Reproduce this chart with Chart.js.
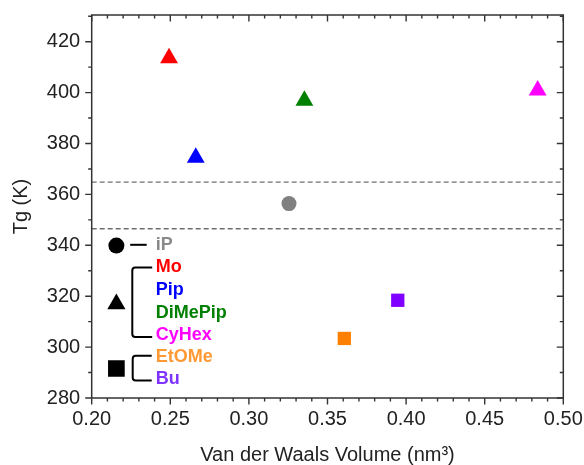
<!DOCTYPE html>
<html><head><meta charset="utf-8">
<script src="https://cdn.jsdelivr.net/npm/chart.js@4.4.1/dist/chart.umd.min.js"></script>
<style>html,body{margin:0;padding:0;background:#fff}#wrap{width:584px;height:465px}</style>
</head><body><div id="wrap"><canvas id="c" width="584" height="465"></canvas></div>
<script>
// ---- data ----
const compounds = ['iP', 'Mo', 'Pip', 'DiMePip', 'CyHex', 'EtOMe', 'Bu'];
const volumes = [0.3255, 0.2492, 0.2662, 0.3353, 0.4837, 0.3607, 0.3947];
const tgValues = [356.4, 413.6, 374.5, 396.9, 400.9, 303.4, 318.4];
const markerShapes = ['circle', 'triangle', 'triangle', 'triangle', 'triangle', 'rect', 'rect'];
const referenceLines = [364.8, 346.5];
const xTickValues = [0.20, 0.25, 0.30, 0.35, 0.40, 0.45, 0.50];
const xTickLabels = ['0.20', '0.25', '0.30', '0.35', '0.40', '0.45', '0.50'];
const yTickValues = [280, 300, 320, 340, 360, 380, 400, 420];
const yTickLabels = ['280', '300', '320', '340', '360', '380', '400', '420'];
const keyShapes = ['circle', 'triangle', 'rect'];
const keyX = [0.2157, 0.2157, 0.2157];
const keyY = [339.9, 316.9, 291.6];
const labelY = [340.2, 331.3, 322.5, 313.4, 304.9, 296.1, 287.5];

// ---- styles ----
const markerColors = ['#808080', '#ff0000', '#0000ff', '#008000', '#ff00ff', '#ff8000', '#8000ff'];
const labelColors = ['#8a8a8a', '#ff0000', '#0000ff', '#008000', '#ff00ff', '#ff9933', '#7f33ff'];
const shapeRadius = { circle: 7.5, triangle: 10.3, rect: 9.4 };
const keyRadius = { circle: 8, triangle: 10.5, rect: 11.8 };
const FONT = "'Liberation Sans', Arial, sans-serif";

const datasets = compounds.map((name, i) => ({
  type: 'scatter',
  label: name,
  data: [{ x: volumes[i], y: tgValues[i] }],
  pointStyle: markerShapes[i],
  pointRadius: shapeRadius[markerShapes[i]],
  backgroundColor: markerColors[i],
  borderColor: markerColors[i],
  pointBorderWidth: 0,
  clip: false
}));
referenceLines.forEach((v, i) => datasets.push({
  type: 'line',
  label: 'ref' + i,
  data: [{ x: 0.2, y: v }, { x: 0.5, y: v }],
  borderColor: '#707070',
  borderWidth: 1.3,
  borderDash: [5, 3],
  pointRadius: 0,
  fill: false
}));
datasets.push({
  type: 'scatter',
  label: 'keys',
  data: keyX.map((x, i) => ({ x: x, y: keyY[i] })),
  pointStyle: keyShapes,
  pointRadius: keyShapes.map(s => keyRadius[s]),
  backgroundColor: '#000',
  borderColor: '#000',
  pointBorderWidth: 0
});

const framePlugin = {
  id: 'frame',
  afterDatasetsDraw(chart) {
    const ctx = chart.ctx, a = chart.chartArea;
    const ys = chart.scales.y;
    ctx.save();
    ctx.font = "bold 18px " + FONT;
    ctx.textBaseline = 'middle';
    ctx.textAlign = 'left';
    compounds.forEach((n, i) => {
      ctx.fillStyle = labelColors[i];
      ctx.fillText(n, a.left + 64, ys.getPixelForValue(labelY[i]));
    });
    ctx.strokeStyle = '#000';
    ctx.lineWidth = 2;
    ctx.lineCap = 'butt';
    const yiP = ys.getPixelForValue(labelY[0]);
    ctx.beginPath();
    ctx.moveTo(a.left + 38.5, yiP); ctx.lineTo(a.left + 55, yiP); ctx.stroke();
    function bracket(x, x2, y1, y2) {
      const r = 3;
      ctx.beginPath();
      ctx.moveTo(x2, y1);
      ctx.arcTo(x, y1, x, y2, r);
      ctx.arcTo(x, y2, x2, y2, r);
      ctx.lineTo(x2, y2);
      ctx.stroke();
    }
    bracket(a.left + 40.6, a.left + 60.5, ys.getPixelForValue(labelY[1]), ys.getPixelForValue(labelY[4]) + 2.3);
    bracket(a.left + 41, a.left + 60, ys.getPixelForValue(labelY[5]) - 1.3, ys.getPixelForValue(labelY[6]) + 1.7);
    ctx.restore();
  },
  afterDraw(chart) {
    const ctx = chart.ctx, a = chart.chartArea;
    const xs = chart.scales.x, ys = chart.scales.y;
    ctx.save();
    ctx.strokeStyle = '#333';
    ctx.lineWidth = 1.5;
    ctx.strokeRect(a.left, a.top, a.right - a.left, a.bottom - a.top);
    const MAJ = 6.5, MIN = 3.5;
    ctx.lineWidth = 1.4;
    ctx.beginPath();
    for (let k = 20; k <= 50; k++) {
      const px = xs.getPixelForValue(k / 100);
      const len = (k % 5 === 0) ? MAJ : MIN;
      ctx.moveTo(px, a.bottom); ctx.lineTo(px, a.bottom + len);
      ctx.moveTo(px, a.top); ctx.lineTo(px, a.top + len);
    }
    for (let v = 280; v <= 430; v += 10) {
      const py = ys.getPixelForValue(v);
      const len = (v % 20 === 0) ? MAJ : MIN;
      ctx.moveTo(a.left, py); ctx.lineTo(a.left - len, py);
      ctx.moveTo(a.right, py); ctx.lineTo(a.right - len, py);
    }
    ctx.stroke();
    ctx.restore();
  }
};

function zeroPad(s) { s.paddingTop = 0; s.paddingBottom = 0; s.paddingLeft = 0; s.paddingRight = 0; }

new Chart(document.getElementById('c'), {
  type: 'scatter',
  data: { datasets: datasets },
  options: {
    responsive: false,
    animation: false,
    layout: { padding: { top: 15, right: 20.7, left: 0, bottom: 0 } },
    plugins: { legend: { display: false }, tooltip: { enabled: false } },
    scales: {
      x: {
        type: 'linear', position: 'bottom', min: 0.2, max: 0.5,
        afterBuildTicks: s => { s.ticks = xTickValues.map(v => ({ value: v })); },
        afterFit: s => { s.height = 67; zeroPad(s); },
        grid: { display: false, drawTicks: false },
        border: { display: false },
        ticks: {
          padding: 9, color: '#222', autoSkip: false, maxRotation: 0,
          font: { family: FONT, size: 20, lineHeight: 1.2 },
          callback: (v, i) => xTickLabels[i]
        },
        title: {
          display: true, text: 'Van der Waals Volume (nm³)', color: '#222',
          font: { family: FONT, size: 20, lineHeight: 1 },
          padding: { top: 0, bottom: 0 }
        }
      },
      y: {
        type: 'linear', position: 'left', min: 280, max: 430.5,
        afterBuildTicks: s => { s.ticks = yTickValues.map(v => ({ value: v })); },
        afterFit: s => { s.width = 91.7; zeroPad(s); },
        grid: { display: false, drawTicks: false },
        border: { display: false },
        ticks: {
          padding: 11.5, color: '#222', autoSkip: false,
          font: { family: FONT, size: 20, lineHeight: 1.2 },
          callback: (v, i) => yTickLabels[i]
        },
        title: {
          display: true, text: 'Tg (K)', color: '#222',
          font: { family: FONT, size: 20, lineHeight: 1 },
          padding: { top: 11.6, bottom: 0 }
        }
      }
    }
  },
  plugins: [framePlugin]
});
</script>
</body></html>
